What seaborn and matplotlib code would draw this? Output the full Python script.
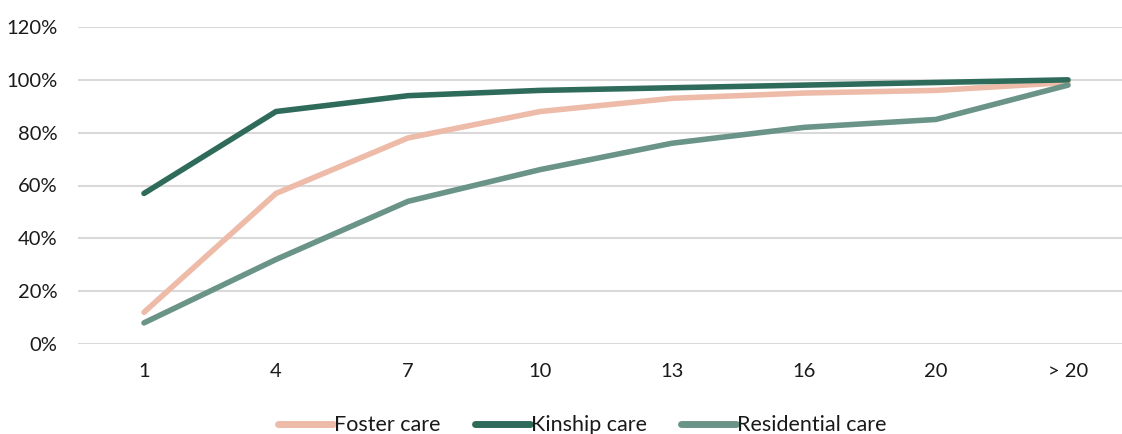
import matplotlib
matplotlib.use("Agg")
import matplotlib.pyplot as plt
import seaborn as sns
import pandas as pd
from matplotlib.ticker import FuncFormatter
from matplotlib.lines import Line2D

categories = ["1", "4", "7", "10", "13", "16", "20", "> 20"]
foster = [0.12, 0.57, 0.78, 0.88, 0.93, 0.95, 0.96, 0.99]
kinship = [0.57, 0.88, 0.94, 0.96, 0.97, 0.98, 0.99, 1.00]
residential = [0.08, 0.32, 0.54, 0.66, 0.76, 0.82, 0.85, 0.98]
series_names = ["Foster care", "Kinship care", "Residential care"]
colors = ["#EDBBA8", "#2F6B5A", "#6A9488"]

rows = []
for name, vals in zip(series_names, [foster, kinship, residential]):
    for i, (c, v) in enumerate(zip(categories, vals)):
        rows.append({"pos": i, "cat": c, "value": v, "series": name})
df = pd.DataFrame(rows)

sns.set_theme(style="white")
plt.rcParams['font.family'] = ['Lato', 'DejaVu Sans']

fig = plt.figure(figsize=(11.22, 4.34), dpi=100)
ax = fig.add_axes([78/1122, 90/434, 1 - 78/1122, (344-27)/434])

sns.lineplot(data=df, x="pos", y="value", hue="series", palette=colors,
             hue_order=series_names, linewidth=4.0, ax=ax, legend=False,
             solid_capstyle="round", solid_joinstyle="miter")

ax.set_xlim(-0.5, (1122 - 144) / 132)
ax.set_ylim(0, 1.2)
ax.set_xticks(range(len(categories)))
ax.set_xticklabels(categories)
ax.set_yticks([0, 0.2, 0.4, 0.6, 0.8, 1.0, 1.2])
ax.yaxis.set_major_formatter(FuncFormatter(lambda v, p: f"{v*100:.0f}%"))
ax.grid(axis="y", color="#D9D9D9", linewidth=1.5)
ax.grid(axis="x", visible=False)
for s in ax.spines.values():
    s.set_visible(False)
ax.tick_params(axis="both", length=0, labelsize=14.5, colors="#1a1a1a")
ax.tick_params(axis="x", pad=14)
ax.tick_params(axis="y", pad=15)
ax.set_xlabel("")
ax.set_ylabel("")

handles = [Line2D([0], [0], color=c, linewidth=5, solid_capstyle="round") for c in colors]
fig.legend(handles, series_names, loc="center", bbox_to_anchor=(0.519, 0.02),
           ncol=3, frameon=False, fontsize=15.5, handlelength=2.55, handletextpad=0.05,
           columnspacing=1.6, labelcolor="#1a1a1a")

fig.savefig("out.png", dpi=100)
